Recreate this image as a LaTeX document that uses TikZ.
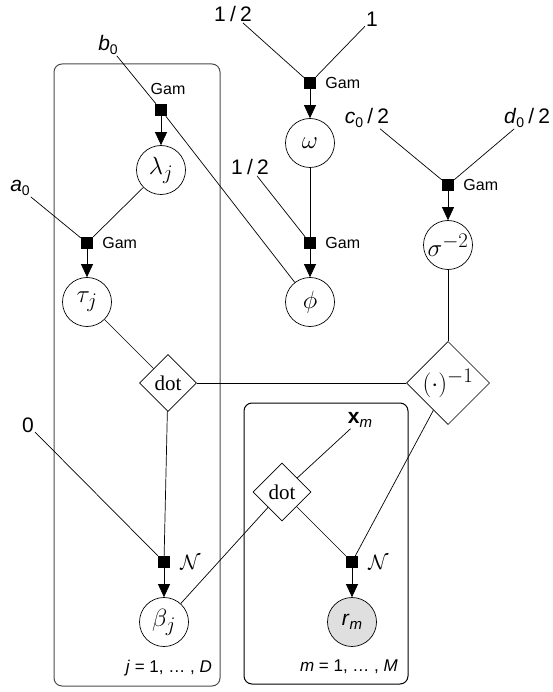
\documentclass[tikz,border=0pt]{standalone}
\usepackage{fontspec}
\setmainfont{Liberation Sans}
\newfontfamily\seriffont{Liberation Serif}
\usetikzlibrary{shapes.geometric,arrows.meta}
\newcommand{\sv}[2]{\textit{#1}\raisebox{-0.35ex}{\fontsize{14}{16}\selectfont #2}}
\newcommand{\hf}{{\kern0.2em}/{\kern0.2em}2}
\begin{document}
\begin{tikzpicture}[x=1pt,y=-1pt,
 lbl/.style={font=\fontsize{21}{24}\selectfont, inner sep=1pt},
 var/.style={circle,draw,line width=0.7pt,minimum size=49pt,inner sep=0pt,font=\fontsize{24.88}{28}\selectfont},
 obs/.style={var,fill=gray!25},
 fac/.style={rectangle,fill=black,minimum size=12pt,inner sep=0pt},
 gl/.style={font=\fontsize{16}{18}\selectfont,inner sep=0pt},
 nl/.style={font=\fontsize{20.74}{22}\selectfont,inner sep=0pt},
 det/.style={diamond,draw,line width=0.7pt,inner sep=1pt,aspect=1},
 edge/.style={line width=0.7pt},
 arr/.style={edge,-{Triangle[length=13pt,width=12pt]}},
 plate/.style={draw,rounded corners=8pt,line width=1pt},
 pl/.style={font=\fontsize{17}{19}\selectfont,inner sep=0pt,anchor=east}
]
\useasboundingbox (0,0) rectangle (553,692);
% plates
\draw[plate,black!70] (54,64) rectangle (220,686);
\draw[plate] (244,403) rectangle (408,684);
\node[pl] (pj) at (212,668) {\textit{j} = 1, … , \textit{D}};
\node[pl] (pm) at (398,667) {\textit{m} = 1, … , \textit{M}};

% constants
\node[lbl] (b0) at (108,45) {\sv{b}{0}};
\node[lbl] (a0) at (20,188) {\sv{a}{0}};
\node[lbl] (zero) at (28,425) {0};
\node[lbl] (h1) at (233,14) {1\hf};
\node[lbl] (one) at (372,19) {1};
\node[lbl] (h2) at (250,167) {1\hf};
\node[lbl] (c0) at (367,118) {\sv{c}{0}\hf};
\node[lbl] (d0) at (527,118) {\sv{d}{0}\hf};
\node[lbl] (xm) at (360,420) {\textbf{x}\raisebox{-0.35ex}{\fontsize{15}{16}\selectfont\itshape m}};

% factors
\node[fac] (fl) at (161,110) {};
\node[gl] (glab) at (168,89) {Gam};
\node[fac,label={[gl,label distance=9pt]right:Gam}] (ft) at (87,243) {};
\node[fac,label={[gl,label distance=9pt]right:Gam}] (fw) at (310,83) {};
\node[fac,label={[gl,label distance=9pt]right:Gam}] (fp) at (310,243) {};
\node[fac,label={[gl,label distance=9pt]right:Gam}] (fs) at (448,185) {};
\node[fac,label={[nl,label distance=10pt]right:$\mathcal{N}$}] (fb) at (164,562) {};
\node[fac,label={[nl,label distance=10pt]right:$\mathcal{N}$}] (fr) at (352,562) {};

% variables
\node[var] (lam) at (161,170) {$\lambda_j$};
\node[var] (tau) at (87,302) {$\tau_j$};
\node[var] (om) at (310,143) {$\omega$};
\node[var] (phi) at (310,302) {$\phi$};
\node[var] (sig) at (448,245) {$\sigma^{-2}$};
\node[var] (beta) at (164,622) {$\beta_j$};
\node[obs,font=\fontsize{21}{24}\selectfont] (r) at (352,622) {\textit{r}\raisebox{-0.35ex}{\fontsize{15}{16}\selectfont\itshape m}};

% deterministic
\node[det,minimum width=57pt,minimum height=57pt,font=\fontsize{21}{24}\seriffont] (dot1) at (168,383) {dot};
\node[det,minimum width=82pt,minimum height=82pt,font=\fontsize{24.88}{28}\selectfont] (inv) at (448,383) {$(\cdot)^{-1}$};
\node[det,minimum width=58pt,minimum height=58pt,font=\fontsize{21}{24}\seriffont] (dot2) at (282,492) {dot};

% edges
\draw[edge] (b0) -- (fl);
\draw[arr] (fl) -- (lam);
\draw[edge] (fl) -- (phi);
\draw[edge] (lam) -- (ft);
\draw[edge] (a0) -- (ft);
\draw[arr] (ft) -- (tau);
\draw[edge] (tau) -- (dot1);
\draw[edge] (dot1) -- (fb);
\draw[edge] (zero) -- (fb);
\draw[arr] (fb) -- (beta);
\draw[edge] (dot1) -- (inv);
\draw[edge] (h1) -- (fw);
\draw[edge] (one) -- (fw);
\draw[arr] (fw) -- (om);
\draw[edge] (om) -- (fp);
\draw[edge] (h2) -- (fp);
\draw[arr] (fp) -- (phi);
\draw[edge] (c0) -- (fs);
\draw[edge] (d0) -- (fs);
\draw[arr] (fs) -- (sig);
\draw[edge] (sig) -- (inv);
\draw[edge] (inv) -- (fr);
\draw[edge] (xm) -- (dot2);
\draw[edge] (dot2) -- (fr);
\draw[edge] (dot2) -- (beta);
\draw[arr] (fr) -- (r);
\end{tikzpicture}
\end{document}
